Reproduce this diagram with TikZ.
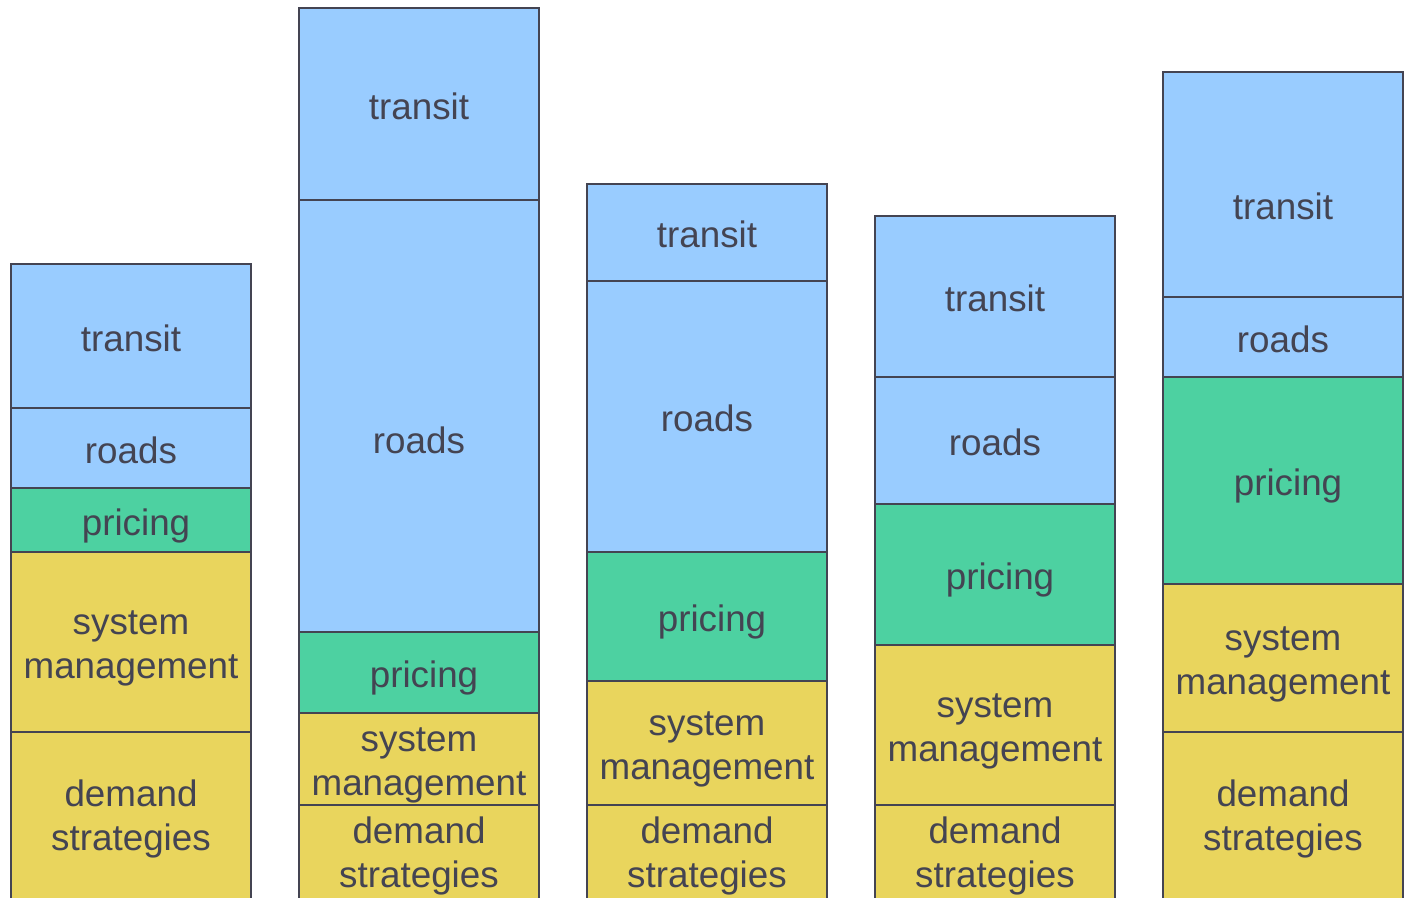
\documentclass[tikz,border=0pt]{standalone}
\usepackage{fontspec}
\setmainfont{Liberation Sans}
\definecolor{skyblue}{HTML}{99CCFF}
\definecolor{mint}{HTML}{4DD1A1}
\definecolor{straw}{HTML}{E9D55D}
\definecolor{slate}{HTML}{444452}
\tikzset{
  seg/.style={
    % The shape:
    shape=rectangle,
    minimum width=120pt,inner sep=0pt,outer sep=0pt,
    % The border:
    draw=slate,line width=0.8pt,
    % The text:
    text=slate,align=center,
    font=\fontsize{18.4}{22}\selectfont},
  % single line labels sit on a fixed box
  oneline/.style={text height=15.4pt,text depth=0pt},
  bluebox/.style={seg,oneline,fill=skyblue},
  greenbox/.style={seg,oneline,fill=mint},
  yellowbox/.style={seg,fill=straw},
  tag/.style={oneline,text=slate,font=\fontsize{18.4}{22}\selectfont}}
% first line struts for the two line labels
\newcommand{\sysman}{\rule{0pt}{18pt}system\\management}
\newcommand{\demstr}{\rule{0pt}{16pt}demand\\strategies}

\begin{document}
\begin{tikzpicture}[x=0.5pt,y=-0.5pt]
	\clip (0,0) rectangle (1405,898);
	% First column
	\node[bluebox,minimum height=72pt] (c1transit) at (131,336) {transit};
	\node[bluebox,minimum height=40pt] (c1roads) at (131,448) {roads};
	\node[greenbox,minimum height=32pt] (c1pricing) at (131,520) {\hspace{5pt}pricing};
	\node[yellowbox,minimum height=90pt] (c1system) at (131,642) {\sysman};
	\node[yellowbox,minimum height=84.5pt] (c1demand) at (131,816.5) {\demstr};
	% Second column
	\node[bluebox,minimum height=96pt] (c2transit) at (419,104) {transit};
	\node[bluebox,minimum height=216pt] (c2roads) at (419,416) {};
	\node[tag] at ([yshift=-11pt]c2roads.center) {roads};
	\node[greenbox,minimum height=40.5pt] (c2pricing) at (419,672.5) {\hspace{5pt}pricing};
	\node[yellowbox,minimum height=46pt] (c2system) at (419,759) {\sysman};
	\node[yellowbox,minimum height=48pt] (c2demand) at (419,853) {\demstr};
	% Third column
	\node[bluebox,minimum height=48.5pt] (c3transit) at (707,232.5) {transit};
	\node[bluebox,minimum height=135.5pt] (c3roads) at (707,416.5) {roads};
	\node[greenbox,minimum height=64.5pt] (c3pricing) at (707,616.5) {\hspace{5pt}pricing};
	\node[yellowbox,minimum height=62pt] (c3system) at (707,743) {\sysman};
	\node[yellowbox,minimum height=48pt] (c3demand) at (707,853) {\demstr};
	% Fourth column
	\node[bluebox,minimum height=80.5pt] (c4transit) at (995,296.5) {transit};
	\node[bluebox,minimum height=63.5pt] (c4roads) at (995,440.5) {roads};
	\node[greenbox,minimum height=70.5pt] (c4pricing) at (995,574.5) {\hspace{5pt}pricing};
	\node[yellowbox,minimum height=80pt] (c4system) at (995,725) {\sysman};
	\node[yellowbox,minimum height=48pt] (c4demand) at (995,853) {\demstr};
	% Fifth column
	\node[bluebox,minimum height=112.5pt] (c5transit) at (1283,184.5) {};
	\node[tag] at ([yshift=-10pt]c5transit.center) {transit};
	\node[bluebox,minimum height=40pt] (c5roads) at (1283,337) {roads};
	\node[greenbox,minimum height=103.5pt] (c5pricing) at (1283,480.5) {\hspace{5pt}pricing};
	\node[yellowbox,minimum height=74pt] (c5system) at (1283,658) {\sysman};
	\node[yellowbox,minimum height=84.5pt] (c5demand) at (1283,816.5) {\demstr};
\end{tikzpicture}
\end{document}
